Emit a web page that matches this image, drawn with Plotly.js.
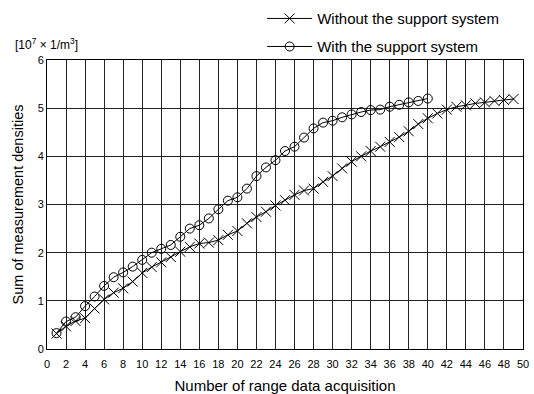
<!DOCTYPE html>
<html><head><meta charset="utf-8">
<script src="https://cdn.plot.ly/plotly-3.0.1.min.js"></script>
<style>html,body{margin:0;padding:0;background:#fff}#chart{width:534px;height:394px}</style>
</head><body><div id="chart"></div>
<script>
const withoutX = [1,2,3,4,5,6,7,8,9,10,11,12,13,14,15,16,17,18,19,20,21,22,23,24,25,26,27,28,29,30,31,32,33,34,35,36,37,38,39,40,41,42,43,44,45,46,47,48,49];
const withoutY = [0.32,0.47,0.58,0.64,0.84,1.03,1.17,1.26,1.40,1.58,1.70,1.80,1.91,2.02,2.12,2.19,2.21,2.26,2.37,2.45,2.61,2.74,2.85,2.98,3.09,3.20,3.29,3.33,3.47,3.59,3.75,3.89,4.00,4.11,4.20,4.30,4.40,4.52,4.67,4.79,4.89,4.97,5.03,5.06,5.10,5.12,5.15,5.17,5.19];
const withX = [1,2,3,4,5,6,7,8,9,10,11,12,13,14,15,16,17,18,19,20,21,22,23,24,25,26,27,28,29,30,31,32,33,34,35,36,37,38,39,40];
const withY = [0.33,0.57,0.66,0.89,1.09,1.31,1.49,1.59,1.71,1.85,2.00,2.08,2.16,2.33,2.50,2.57,2.71,2.90,3.08,3.15,3.33,3.59,3.77,3.92,4.11,4.20,4.39,4.58,4.70,4.74,4.81,4.87,4.92,4.96,4.97,5.03,5.07,5.12,5.15,5.20];
const seriesNames = ['Without the support system','With the support system'];
const xTicks = [0,2,4,6,8,10,12,14,16,18,20,22,24,26,28,30,32,34,36,38,40,42,44,46,48,50];
const yTicks = [0,1,2,3,4,5,6];

const F = 'Arial, "Liberation Sans", sans-serif';
const traces = [
  {x: withoutX, y: withoutY, name: seriesNames[0], mode: 'lines+markers', legend: 'legend',
   line: {color: '#000', width: 1}, marker: {symbol: 'x-thin-open', size: 10, color: '#000', line: {color: '#000', width: 1}}},
  {x: withX, y: withY, name: seriesNames[1], mode: 'lines+markers', legend: 'legend2',
   line: {color: '#000', width: 1}, marker: {symbol: 'circle-open', size: 9, color: '#000', line: {color: '#000', width: 1}}}
];
const legBase = {xanchor: 'left', yanchor: 'top', tracegroupgap: 0, itemwidth: 45,
                 font: {family: F, size: 15, color: '#000'}, bgcolor: 'rgba(0,0,0,0)'};
const layout = {
  width: 534, height: 394,
  margin: {l: 47, r: 11, t: 60, b: 45, autoexpand: false},
  paper_bgcolor: '#fff', plot_bgcolor: '#fff',
  font: {family: F, size: 11, color: '#000'},
  showlegend: true,
  legend: Object.assign({}, legBase, {x: 0.452, y: 1.200}),
  legend2: Object.assign({}, legBase, {x: 0.452, y: 1.103}),
  xaxis: {range: [0, 50], tickvals: xTicks, ticktext: xTicks.map(String), showgrid: true, gridcolor: '#222', gridwidth: 1,
          zeroline: false, showline: true, linecolor: '#000', linewidth: 1, mirror: true, ticks: '', ticklen: 0,
          ticklabelstandoff: 5, automargin: false,
          tickfont: {family: F, size: 11, color: '#000'},
          title: {text: 'Number of range data acquisition', font: {family: F, size: 15, color: '#000'}, standoff: 16}},
  yaxis: {range: [0, 6], tickvals: yTicks, ticktext: yTicks.map(String), showgrid: true, gridcolor: '#222', gridwidth: 1,
          zeroline: false, showline: true, linecolor: '#000', linewidth: 1, mirror: true, ticks: '', ticklen: 0,
          automargin: false,
          tickfont: {family: F, size: 11, color: '#000'},
          title: {text: 'Sum of measurement densities', font: {family: F, size: 14.5, color: '#000'}, standoff: 10}},
  annotations: [
    {xref: 'paper', yref: 'paper', x: -0.072, y: 1.021, xanchor: 'left', yanchor: 'bottom', showarrow: false,
     text: '[10<sup>7</sup> \u00D7 1/m<sup>3</sup>]', font: {family: F, size: 12, color: '#000'}}
  ]
};
Plotly.newPlot('chart', traces, layout, {displayModeBar: false, staticPlot: true});
</script></body></html>
